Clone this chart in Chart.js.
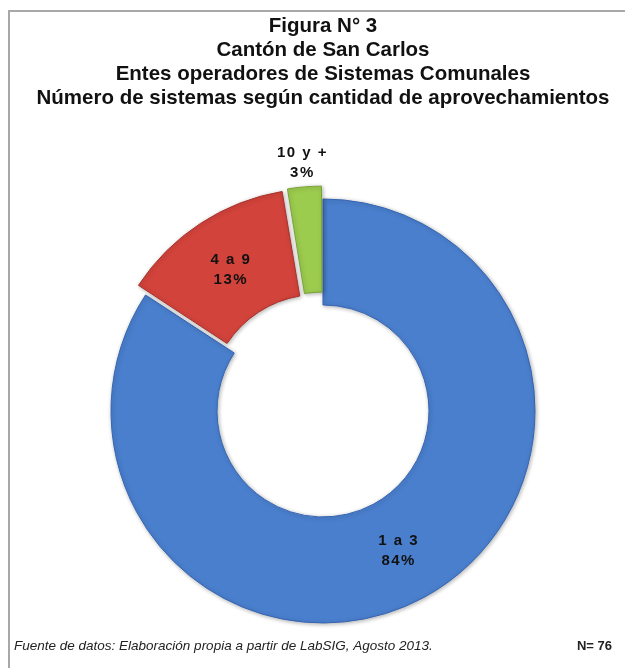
<!DOCTYPE html>
<html>
<head>
<meta charset="utf-8">
<script src="https://cdn.jsdelivr.net/npm/chart.js@4.4.1/dist/chart.umd.min.js"></script>
<style>
  html, body { margin: 0; padding: 0; background: #fff; }
  #wrap { position: relative; width: 625px; height: 668px; }
</style>
</head>
<body>
<div id="wrap"><canvas id="chart"></canvas></div>
<script>
const categories = ["1 a 3", "4 a 9", "10 y +"];
const systems = [64, 10, 2];
const sliceColors = ["#4a7fce", "#d2433b", "#9ccc4e"];
const sliceBorders = ["#3565b2", "#a8322c", "#7aa336"];
const titleLines = [
    "Figura N° 3",
    "Cantón de San Carlos",
    "Entes operadores de Sistemas Comunales",
    "Número de sistemas según cantidad de aprovechamientos"
];
const sourceNote = "Fuente de datos: Elaboración propia a partir de LabSIG, Agosto 2013.";
const sampleSize = "N= 76";

/* ---------- frame + footer ---------- */
const frame = {
    id: "frame",
    beforeDraw(chart) {
        const ctx = chart.ctx;
        ctx.save();
        ctx.strokeStyle = "#a8a8a8";
        ctx.lineWidth = 2;
        ctx.beginPath();
        ctx.moveTo(9, 668);
        ctx.lineTo(9, 11);
        ctx.lineTo(625, 11);
        ctx.stroke();
        ctx.restore();
    },
    afterDraw(chart) {
        const ctx = chart.ctx;
        ctx.save();
        ctx.fillStyle = "#222";
        ctx.textBaseline = "middle";
        ctx.font = "italic 13.5px 'Liberation Sans'";
        ctx.textAlign = "left";
        ctx.fillText(sourceNote, 14, 646);
        ctx.font = "bold 13px 'Liberation Sans'";
        ctx.textAlign = "right";
        ctx.fillText(sampleSize, 612, 646);
        ctx.restore();
    }
};

/* ---------- soft shading under the slices ---------- */
const shading = {
    id: "shading",
    beforeDatasetsDraw(chart) {
        const ctx = chart.ctx;
        ctx.save();
        ctx.shadowColor = "rgba(0,0,0,0.3)";
        ctx.shadowBlur = 4;
        ctx.shadowOffsetX = 1;
        ctx.shadowOffsetY = 1;
    },
    afterDatasetsDraw(chart) {
        chart.ctx.restore();
    }
};

/* ---------- slice labels ---------- */
const sliceLabels = {
    id: "sliceLabels",
    afterDatasetsDraw(chart) {
        const ctx = chart.ctx;
        const meta = chart.getDatasetMeta(0);
        const total = systems.reduce((a, b) => a + b, 0);
        ctx.save();
        ctx.font = "bold 15px 'Liberation Sans'";
        ctx.fillStyle = "#111";
        ctx.textAlign = "center";
        ctx.textBaseline = "middle";
        ctx.letterSpacing = "1.5px";
        meta.data.forEach((arc, i) => {
            const p = arc.getProps(["x", "y", "startAngle", "endAngle", "innerRadius", "outerRadius"], true);
            const mid = (p.startAngle + p.endAngle) / 2;
            const shift = (arc.options.offset || 0) / 4;
            const outside = i === 2;
            const r = outside ? p.outerRadius + shift * 2 + 23 : (p.innerRadius + p.outerRadius) / 2 + shift;
            const x = p.x + Math.cos(mid) * r;
            const y = p.y + Math.sin(mid) * r;
            ctx.fillText(categories[i], x, y - 10);
            ctx.fillText(Math.round(systems[i] / total * 100) + "%", x, y + 10);
        });
        ctx.restore();
    }
};

new Chart(document.getElementById("chart"), {
    type: "doughnut",
    data: {
        labels: categories,
        datasets: [{
            data: systems,
            backgroundColor: sliceColors,
            borderColor: sliceBorders,
            borderWidth: 1,
            offset: [0, 38, 28]
        }]
    },
    options: {
        responsive: true,
        maintainAspectRatio: false,
        animation: false,
        radius: 212,
        cutout: "50%",
        layout: { padding: { left: 21, right: 0, top: 0, bottom: 8 } },
        plugins: {
            legend: { display: false },
            tooltip: { enabled: false },
            title: {
                display: true,
                text: titleLines,
                color: "#111",
                font: { family: "'Liberation Sans'", size: 20.5, weight: "bold", lineHeight: 1.17 },
                padding: { top: 14, bottom: 52 }
            }
        }
    },
    plugins: [frame, shading, sliceLabels]
});
</script>
</body>
</html>
